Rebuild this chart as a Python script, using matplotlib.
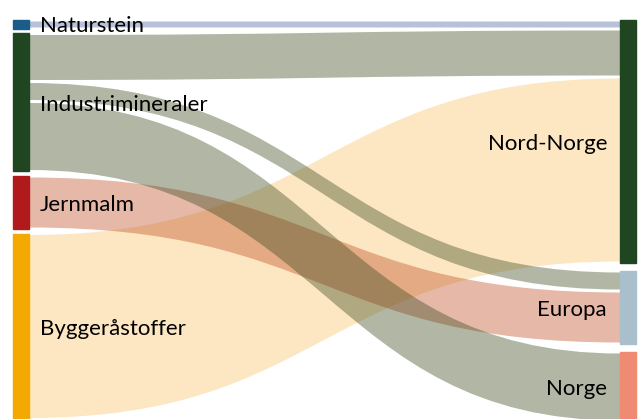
import matplotlib
matplotlib.use('Agg')
import matplotlib.pyplot as plt
from matplotlib.path import Path
from matplotlib.patches import PathPatch, Rectangle

plt.rcParams['font.family'] = ['Lato', 'DejaVu Sans']

# Nodes (left = source, right = destination)
sources = ['Naturstein', 'Industrimineraler', 'Jernmalm', 'Byggeråstoffer']
targets = ['Nord-Norge', 'Europa', 'Norge']

# Flows: (source, target, value)
flow_source = ['Naturstein', 'Industrimineraler', 'Industrimineraler', 'Industrimineraler',
               'Jernmalm', 'Byggeråstoffer']
flow_target = ['Nord-Norge', 'Nord-Norge', 'Europa', 'Norge', 'Europa', 'Nord-Norge']
flow_value = [9, 48, 20, 70, 53, 186]

node_colors = {'Naturstein': '#1a5d8b', 'Industrimineraler': '#1f4620', 'Jernmalm': '#b01a1a',
               'Byggeråstoffer': '#f4a900', 'Nord-Norge': '#1f4620', 'Europa': '#a9bfcb',
               'Norge': '#f08b73'}
# link colours (drawn semi-transparent so crossings darken)
link_colors = {'Naturstein': (0.30, 0.40, 0.62), 'Industrimineraler': (0.24, 0.29, 0.12),
               'Jernmalm': (0.75, 0.31, 0.15), 'Byggeråstoffer': (0.98, 0.77, 0.42)}
link_alpha = 0.4

# layout (pixels of the 641x419 canvas, scale 1 px per unit)
W, H = 641, 419
top = 20
left_x0, left_x1 = 13, 29
right_x0, right_x1 = 620, 636
left_pad, right_pad = 4.5, 8
link_gap = 3

fig = plt.figure(figsize=(W / 100, H / 100), dpi=100)
ax = fig.add_axes([0, 0, 1, 1])
ax.set_xlim(0, W)
ax.set_ylim(H, 0)
ax.axis('off')


def stack(names, side_key, pad):
    pos = {}
    y = top
    for n in names:
        total = sum(v for s, t, v in zip(flow_source, flow_target, flow_value)
                    if (s if side_key == 's' else t) == n)
        pos[n] = [y, y + total]
        y += total + pad
    return pos


src_pos = stack(sources, 's', left_pad)
tgt_pos = stack(targets, 't', right_pad)

# offsets of each flow within its nodes, ordered by the node on the other side
src_off = {n: src_pos[n][0] for n in sources}
tgt_off = {n: tgt_pos[n][0] for n in targets}
links = []
for i in sorted(range(len(flow_value)), key=lambda k: (sources.index(flow_source[k]), targets.index(flow_target[k]))):
    s, t, v = flow_source[i], flow_target[i], flow_value[i]
    y0 = src_off[s]
    src_off[s] += v
    links.append([i, y0, None])
for lk in sorted(links, key=lambda l: (targets.index(flow_target[l[0]]), sources.index(flow_source[l[0]]))):
    t = flow_target[lk[0]]
    lk[2] = tgt_off[t]
    tgt_off[t] += flow_value[lk[0]]

# draw links, bottom node first
xm = (left_x1 + right_x0) / 2
for i, ys, yt in sorted(links, key=lambda l: -sources.index(flow_source[l[0]])):
    v = flow_value[i]
    h = v - link_gap
    a0, b0 = ys + link_gap / 2, ys + link_gap / 2 + h
    a1, b1 = yt + link_gap / 2, yt + link_gap / 2 + h
    verts = [(left_x1, a0), (xm, a0), (xm, a1), (right_x0, a1),
             (right_x0, b1), (xm, b1), (xm, b0), (left_x1, b0), (left_x1, a0)]
    codes = [Path.MOVETO, Path.CURVE4, Path.CURVE4, Path.CURVE4,
             Path.LINETO, Path.CURVE4, Path.CURVE4, Path.CURVE4, Path.CLOSEPOLY]
    ax.add_patch(PathPatch(Path(verts, codes), facecolor=(*link_colors[flow_source[i]], link_alpha),
                           edgecolor='none', zorder=1))

# nodes
for n in sources:
    y0, y1 = src_pos[n]
    ax.add_patch(Rectangle((left_x0, y0), left_x1 - left_x0, y1 - y0, color=node_colors[n], zorder=2))
    ax.text(40, (y0 + y1) / 2, n, fontsize=16, va='center_baseline', ha='left', color='black', zorder=3)
for n in targets:
    y0, y1 = tgt_pos[n]
    ax.add_patch(Rectangle((right_x0, y0), right_x1 - right_x0, y1 - y0, color=node_colors[n], zorder=2))
    ax.text(607, (y0 + y1) / 2, n, fontsize=16, va='center_baseline', ha='right', color='black', zorder=3)

fig.savefig('out.png', dpi=100)
